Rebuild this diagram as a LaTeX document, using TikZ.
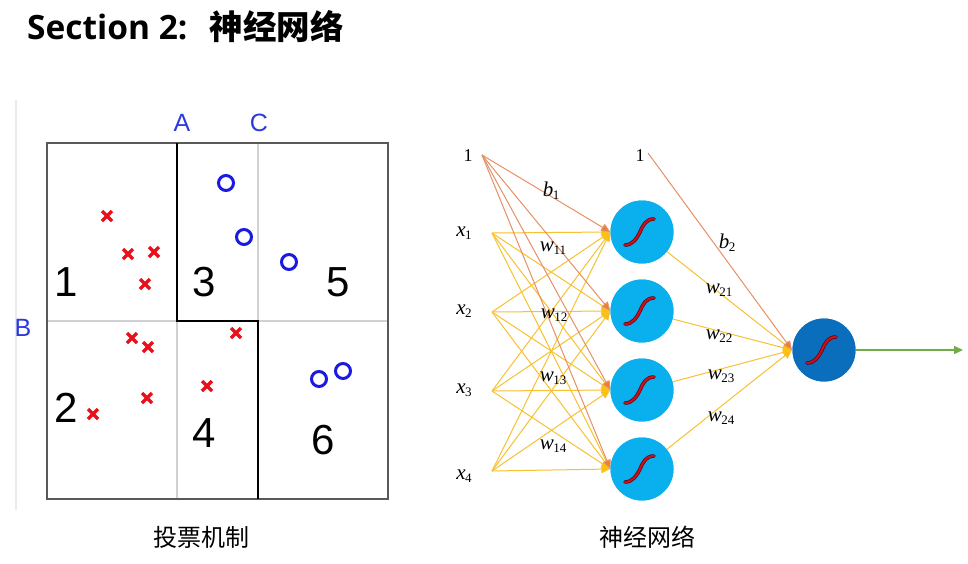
\documentclass[tikz,border=0pt]{standalone}
\usepackage{fontspec}
\setmainfont{Liberation Serif}
\newfontfamily\arialf{Liberation Sans}
\newfontfamily\titlef{Open Sans}
\newfontfamily\cjk{Noto Sans CJK SC}
\usetikzlibrary{arrows.meta}
\definecolor{redx}{HTML}{E8101A}
\definecolor{blueo}{HTML}{1A1AE0}
\definecolor{labblue}{HTML}{2A3AE0}
\definecolor{hidc}{HTML}{0AB0EE}
\definecolor{outc}{HTML}{0A6EBD}
\definecolor{yel}{HTML}{F8C132}
\definecolor{yeltip}{HTML}{FFC000}
\definecolor{ora}{HTML}{E59066}
\definecolor{oratip}{HTML}{ED7D31}
\definecolor{grn}{HTML}{70AD47}
\definecolor{sigred}{HTML}{C8101E}
\definecolor{sigdark}{HTML}{6A0008}
\newcommand\vsub[2]{\textit{#1}\kern-0.5pt\raisebox{-0.35ex}{\fontsize{13}{13}\selectfont #2}}
\tikzset{
  frameline/.style={draw=black!65,line width=1.4pt},
  gridline/.style={draw=black!18,line width=1.3pt},
  bound/.style={draw=black,line width=2.4pt},
  xmark/.style={draw=redx,line width=3.3pt},
  omark/.style={draw=blueo,line width=3pt},
  abc/.style={font=\arialf\fontsize{25}{25}\selectfont,text=labblue,inner sep=0pt},
  region/.style={font=\arialf\fontsize{42}{42}\selectfont,inner sep=0pt},
  hid/.style={circle,fill=hidc,minimum size=63pt,inner sep=0pt},
  outn/.style={circle,fill=outc,minimum size=63pt,inner sep=0pt},
  inl/.style={draw=yel,line width=1pt,-{Triangle[length=9pt,width=8pt,fill=yeltip]}},
  bial/.style={draw=ora,line width=1pt,-{Triangle[length=9pt,width=8pt,fill=oratip]}},
  outl/.style={draw=grn,line width=1.4pt,-{Triangle[length=9pt,width=8pt]}},
  nnlab/.style={font=\fontsize{21}{21}\selectfont,inner sep=0pt},
  onelab/.style={font=\fontsize{18}{18}\selectfont,inner sep=0pt},
  caption/.style={font=\cjk\fontsize{24}{24}\selectfont,inner sep=0pt},
}
\newcommand\sigm[1]{%
  \foreach \c/\w in {sigdark/3.6pt,sigred/2.1pt}{
  \draw[draw=\c,line width=\w,line cap=round] ([shift={(-17,13)}]#1.center) .. controls ([shift={(-9,13)}]#1.center) and ([shift={(-5,6)}]#1.center) .. ([shift={(-2,0)}]#1.center) .. controls ([shift={(1,-7)}]#1.center) and ([shift={(4,-13)}]#1.center) .. ([shift={(12,-13)}]#1.center);}}
\begin{document}
\begin{tikzpicture}[x=1pt,y=-1pt]
\useasboundingbox[fill=white] (0,0) rectangle (968,563);
% title
\node[anchor=west,inner sep=0pt] (title) at (27,27) {\titlef\bfseries\fontsize{33.5}{33.5}\selectfont Section 2:\hspace{22pt}\cjk\bfseries\fontsize{33.5}{33.5}\selectfont 神经网络};
% ---------- left panel ----------
\draw[draw=black!8,line width=1.2pt] (16,100) -- (16,510);
\draw[gridline] (177,143) -- (177,499);
\draw[gridline] (258,143) -- (258,499);
\draw[gridline] (47,321) -- (388,321);
\draw[frameline] (47,143) rectangle (388,499);
\draw[bound] (177,143) -- (177,321) -- (258,321) -- (258,499);
\node[abc] (lA) at (182,123) {A};
\node[abc] (lC) at (259,123) {C};
\node[abc] (lB) at (23,328) {B};
\node[region] (r1) at (66,282) {1};
\node[region] (r2) at (66,408) {2};
\node[region] (r3) at (204,282) {3};
\node[region] (r4) at (204,433) {4};
\node[region] (r5) at (338,282) {5};
\node[region] (r6) at (323,440) {6};
\foreach \px/\py in {107/216,128/254,154/252,145/284,132/338,148/347,147/398,93/414,207/386,236/333}{
  \draw[xmark] (\px-5,\py-5) -- (\px+5,\py+5) (\px-5,\py+5) -- (\px+5,\py-5);}
\foreach \px/\py in {226/183,244/237,289/262,319/379,343/371}{
  \draw[omark] (\px,\py) circle (7.5);}
% ---------- right panel ----------
\node[onelab] (one1) at (468,156) {1};
\node[onelab] (one2) at (640,156) {1};
\coordinate (b1s) at (482,155);
\coordinate (b2s) at (648,153);
\node[nnlab] (x1) at (464,233) {\vsub{x}{1}};
\node[nnlab] (x2) at (464,311) {\vsub{x}{2}};
\node[nnlab] (x3) at (464,390) {\vsub{x}{3}};
\node[nnlab] (x4) at (464,476) {\vsub{x}{4}};
\coordinate (x1s) at (492,233);
\coordinate (x2s) at (492,312);
\coordinate (x3s) at (492,391);
\coordinate (x4s) at (492,471);
\node[hid] (h1) at (642,232) {};
\node[hid] (h2) at (642,311) {};
\node[hid] (h3) at (642,390) {};
\node[hid] (h4) at (642,469) {};
\node[outn] (o) at (824,350) {};
\coordinate (oin) at (792,350);
\coordinate (oend) at (963,350);
\foreach \i in {1,2,3,4}{\foreach \j in {1,2,3,4}{\draw[inl] (x\i s) -- (h\j.west);}}
\foreach \j in {1,2,3,4}{\draw[bial] (b1s) -- (h\j.west);}
\foreach \j in {1,2,3,4}{\draw[inl] (h\j) -- (oin);}
\draw[bial] (b2s) -- (oin);
\draw[outl] (o.east) -- (oend);
\foreach \j in {1,2,3,4}{\node[hid] at (h\j) {}; \sigm{h\j}}
\node[outn] at (o) {};
\sigm{o}
\node[nnlab] (lb1) at (551,191) {\vsub{b}{1}};
\node[nnlab] (lw11) at (553,248) {\vsub{w}{11}};
\node[nnlab] (lw12) at (554,315) {\vsub{w}{12}};
\node[nnlab] (lw13) at (553,378) {\vsub{w}{13}};
\node[nnlab] (lw14) at (553,446) {\vsub{w}{14}};
\node[nnlab] (lb2) at (727,243) {\vsub{b}{2}};
\node[nnlab] (lw21) at (719,290) {\vsub{w}{21}};
\node[nnlab] (lw22) at (719,336) {\vsub{w}{22}};
\node[nnlab] (lw23) at (721,376) {\vsub{w}{23}};
\node[nnlab] (lw24) at (721,418) {\vsub{w}{24}};
% captions
\node[caption] (cap1) at (201,537) {投票机制};
\node[caption] (cap2) at (647,537) {神经网络};
\end{tikzpicture}
\end{document}
